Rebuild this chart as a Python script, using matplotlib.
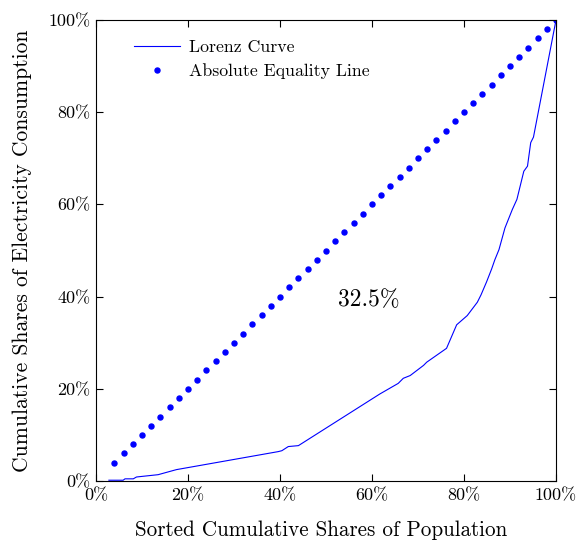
import matplotlib
matplotlib.use("Agg")
import matplotlib.pyplot as plt

plt.rcParams['font.family'] = ['cmr10', 'DejaVu Serif']
plt.rcParams['mathtext.fontset'] = 'cm'
plt.rcParams['axes.formatter.use_mathtext'] = True

# Lorenz curve (cumulative population share %, cumulative consumption share %)
pop_share = [2.8, 5.9, 6.3, 8.1, 8.8, 13.5, 16.4, 17.5, 39.6, 40.4, 41.8, 44.0,
             61.7, 65.7, 66.8, 68.3, 71.2, 71.9, 76.2, 78.4, 80.7, 82.9, 83.7,
             84.9, 86.0, 86.7, 87.6, 88.9, 90.5, 91.5, 93.0, 93.8, 94.5, 95.1,
             100.0]
cons_share = [0.2, 0.2, 0.5, 0.5, 0.9, 1.4, 2.2, 2.5, 6.4, 6.6, 7.5, 7.7,
              18.9, 21.2, 22.3, 22.9, 25.1, 25.8, 28.8, 33.9, 35.9, 38.8, 40.4,
              43.2, 46.0, 48.0, 50.2, 54.9, 58.9, 61.1, 67.2, 68.3, 73.4, 74.6,
              100.0]

# points on the line of absolute equality
equal_x = [4, 6, 8, 10, 12, 14, 16, 18, 20, 22, 24, 26, 28, 30, 32, 34, 36,
           38, 40, 42, 44, 46, 48, 50, 52, 54, 56, 58, 60, 62, 64, 66, 68, 70,
           72, 74, 76, 78, 80, 82, 84, 86, 88, 90, 92, 94, 96, 98, 100]
equal_y = list(equal_x)

gini_text = "32.5%"
ticks = [0, 20, 40, 60, 80, 100]
tick_labels = ["0%", "20%", "40%", "60%", "80%", "100%"]

fig = plt.figure(figsize=(5.76, 5.4), dpi=100)
ax = fig.add_axes([0.1667, 0.109, 0.7986, 0.854])

ax.plot(pop_share, cons_share, color='#0000ff', lw=0.8, label='Lorenz Curve')
ax.plot(equal_x, equal_y, linestyle='none', marker='o', markersize=3.6,
        color='#0000ff', label='Absolute Equality Line')
ax.text(59.2, 39.3, gini_text, fontsize=17, ha='center', va='center')

ax.set_xlim(0, 100)
ax.set_ylim(0, 100)
ax.set_xticks(ticks)
ax.set_xticklabels(tick_labels)
ax.set_yticks(ticks)
ax.set_yticklabels(tick_labels)
ax.tick_params(direction='in', top=True, right=True, labelsize=13, length=5)
ax.tick_params(axis='x', pad=5)
ax.tick_params(axis='y', pad=4)
ax.set_xlabel("Sorted Cumulative Shares of Population", fontsize=15.2)
ax.xaxis.set_label_coords(0.49, -0.086, transform=ax.transAxes)
ax.xaxis.label.set_va('top')
ax.set_ylabel("Cumulative Shares of Electricity Consumption", fontsize=15.5,
              labelpad=12)

ax.legend(loc='upper left', frameon=False, fontsize=12.8, handlelength=2.6,
          handletextpad=0.5, borderaxespad=0.7, bbox_to_anchor=(0.04, 1.0),
          labelspacing=0.45)

fig.savefig("out.png", dpi=100)
